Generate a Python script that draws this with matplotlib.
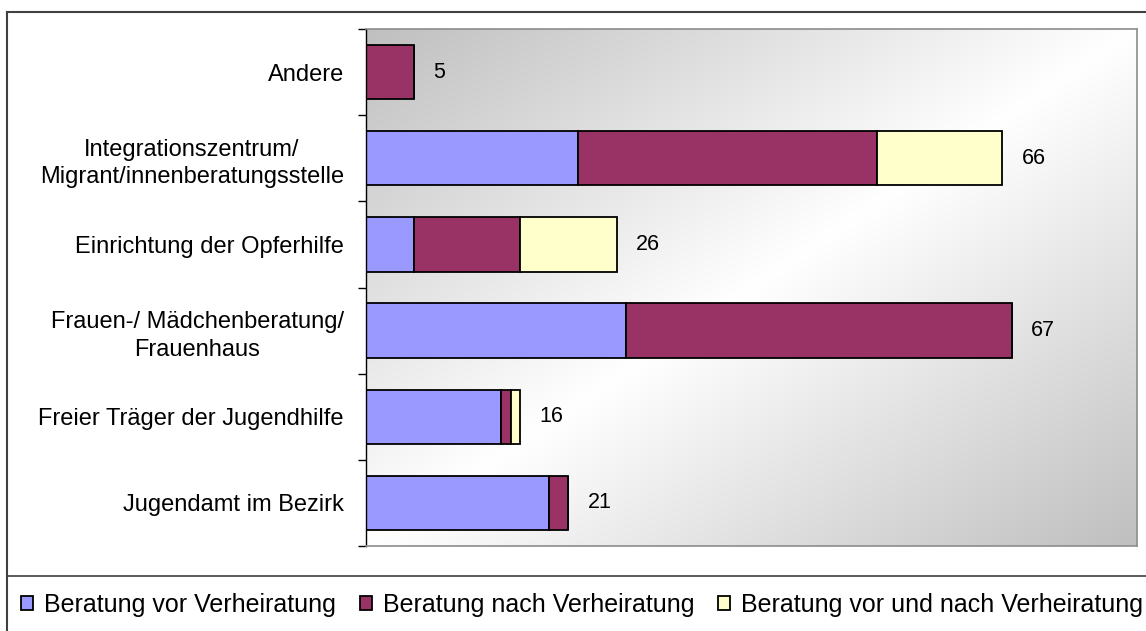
import numpy as np
import matplotlib
matplotlib.use('Agg')
import matplotlib.pyplot as plt
from matplotlib.lines import Line2D

plt.rcParams['font.family'] = ['Liberation Sans', 'DejaVu Sans']

# categories from top to bottom
categories = ['Andere',
              'Integrationszentrum/\nMigrant/innenberatungsstelle',
              'Einrichtung der Opferhilfe',
              'Frauen-/ Mädchenberatung/\nFrauenhaus',
              'Freier Träger der Jugendhilfe',
              'Jugendamt im Bezirk']
vor = [0, 22, 5, 27, 14, 19]
nach = [5, 31, 11, 40, 1, 2]
vor_und_nach = [0, 13, 10, 0, 1, 0]
series_names = ['Beratung vor Verheiratung', 'Beratung nach Verheiratung',
                'Beratung vor und nach Verheiratung']
colors = ['#9999FF', '#993366', '#FFFFCC']

W, H = 1146, 631
fig = plt.figure(figsize=(W / 100, H / 100), dpi=100)
ax = fig.add_axes([366 / W, 1 - 546 / H, (1137 - 366) / W, (546 - 29) / H])

# diagonal gradient background: gray corners top-left / bottom-right, white across the diagonal
nx, ny = 400, 300
u = np.linspace(0, 1, nx)[None, :]
r = np.linspace(0, 1, ny)[:, None]
t = np.abs(1 - u - r)
g = 1 - 0.25 * t
img = np.dstack([g, g, g])
ax.imshow(img, extent=[0, 1, 0, 1], transform=ax.transAxes, aspect='auto',
          origin='upper', zorder=0, interpolation='bilinear')

y = np.arange(len(categories))
left = np.zeros(len(categories))
handles = []
for vals, col, name in zip([vor, nach, vor_und_nach], colors, series_names):
    vals = np.array(vals)
    b = ax.barh(y, vals, left=left, height=0.63, color=col, edgecolor='black',
                linewidth=1.3, label=name, zorder=2)
    handles.append(b)
    left = left + vals

for yi, tot in zip(y, left):
    ax.annotate(str(int(tot)), (tot, yi), xytext=(14, 0), textcoords='offset points',
                va='center', ha='left', fontsize=15.5)

ax.set_xlim(0, 80)
ax.set_ylim(len(categories) - 0.5, -0.5)
ax.set_xticks([])
ax.set_yticks(y)
ax.set_yticklabels(categories, fontsize=17)
for lbl in ax.get_yticklabels():
    lbl.set_multialignment('center')
    lbl.set_linespacing(1.32)
ax.set_yticks(np.arange(-0.5, len(categories), 1), minor=True)
ax.tick_params(axis='y', which='major', length=0, pad=16)
ax.tick_params(axis='y', which='minor', length=6, width=1, direction='out', color='black')

for side in ['top', 'right', 'bottom']:
    ax.spines[side].set_color('#8c8c8c')
    ax.spines[side].set_linewidth(1.2)
ax.spines['left'].set_color('black')
ax.spines['left'].set_linewidth(1.0)

# chart frame and legend separator
fig.add_artist(Line2D([7 / W, 7 / W], [0, 1 - 12 / H], color='#404040', lw=1.5))
fig.add_artist(Line2D([7 / W, 1], [1 - 12 / H, 1 - 12 / H], color='#404040', lw=1.5))
fig.add_artist(Line2D([7 / W, 1], [1 - 576 / H, 1 - 576 / H], color='#404040', lw=1.2))

fig.legend(handles=handles, loc='center', bbox_to_anchor=(582 / W, 1 - 605 / H),
           ncol=3, frameon=False, fontsize=18, handlelength=0.48, handleheight=0.48,
           handletextpad=0.45, columnspacing=0.95, borderaxespad=0, borderpad=0)

fig.savefig('out.png', dpi=100)
